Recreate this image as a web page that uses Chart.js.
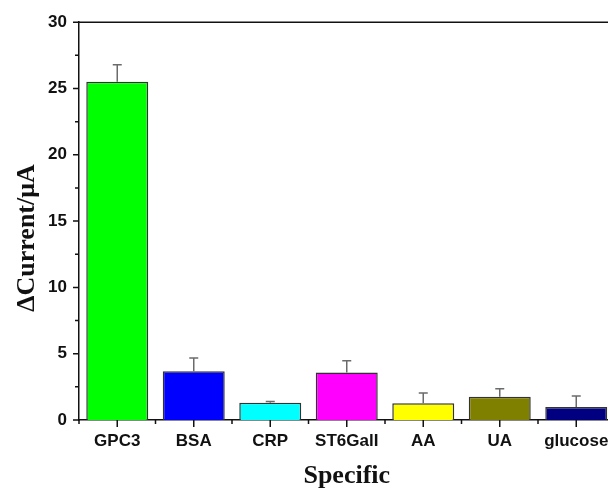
<!DOCTYPE html>
<html>
<head>
<meta charset="utf-8">
<script src="https://cdn.jsdelivr.net/npm/chart.js@4.4.1/dist/chart.umd.min.js"></script>
<style>
  html, body { margin: 0; padding: 0; background: #fff; overflow: hidden; }
  #wrap { position: relative; width: 640px; height: 491px; }
</style>
</head>
<body>
<div id="wrap"><canvas id="chart"></canvas></div>
<script>
// Response of the sensor to the target and to interferents
const categories = ['GPC3', 'BSA', 'CRP', 'ST6GalI', 'AA', 'UA', 'glucose'];
const deltaCurrent = [25.5, 3.67, 1.3, 3.59, 1.26, 1.76, 0.98];
const errorUp = [1.3, 1.0, 0.1, 0.88, 0.77, 0.6, 0.83];
const barColors = ['#00ff00', '#0000ff', '#00ffff', '#ff00ff', '#ffff00', '#808000', '#000080'];
const yTicks = [0, 5, 10, 15, 20, 25, 30];

const yTitle = '\u0394Current/\u03bcA';
const xTitle = 'Specific';

// Upper error whiskers, axis tick marks, top frame line and axis titles
const decorations = {
  id: 'decorations',
  afterDatasetsDraw(chart) {
    const { ctx, scales: { x, y } } = chart;
    const meta = chart.getDatasetMeta(0);
    ctx.save();
    ctx.strokeStyle = '#6b6b6b';
    ctx.lineWidth = 1.5;
    meta.data.forEach((bar, i) => {
      const yv = y.getPixelForValue(deltaCurrent[i]);
      const ye = y.getPixelForValue(deltaCurrent[i] + errorUp[i]);
      ctx.beginPath();
      ctx.moveTo(bar.x, yv);
      ctx.lineTo(bar.x, ye);
      ctx.moveTo(bar.x - 4.5, ye);
      ctx.lineTo(bar.x + 4.5, ye);
      ctx.stroke();
    });
    ctx.restore();
  },
  afterDraw(chart) {
    const { ctx, chartArea: a, scales: { x, y } } = chart;
    ctx.save();
    ctx.strokeStyle = '#111';
    ctx.lineWidth = 1.5;
    // top frame line
    ctx.beginPath();
    ctx.moveTo(a.left, a.top);
    ctx.lineTo(chart.width, a.top);
    ctx.stroke();
    // y ticks: major at labelled values, minor halfway between
    ctx.beginPath();
    for (let i = 0; i < yTicks.length; i++) {
      const py = y.getPixelForValue(yTicks[i]);
      ctx.moveTo(a.left - 6, py);
      ctx.lineTo(a.left, py);
      if (i < yTicks.length - 1) {
        const pm = y.getPixelForValue((yTicks[i] + yTicks[i + 1]) / 2);
        ctx.moveTo(a.left - 4, pm);
        ctx.lineTo(a.left, pm);
      }
    }
    // x ticks: major at category centres, minor at boundaries
    for (let i = 0; i < categories.length; i++) {
      const px = x.getPixelForValue(i);
      ctx.moveTo(px, a.bottom);
      ctx.lineTo(px, a.bottom + 7);
      const half = (x.getPixelForValue(1) - x.getPixelForValue(0)) / 2;
      ctx.moveTo(px - half, a.bottom);
      ctx.lineTo(px - half, a.bottom + 4);
    }
    ctx.stroke();
    // axis titles
    ctx.fillStyle = '#111';
    ctx.font = 'bold 26px "Liberation Serif", "Times New Roman", serif';
    ctx.textAlign = 'center';
    ctx.textBaseline = 'middle';
    ctx.fillText(xTitle, (a.left + a.right) / 2, 476);
    ctx.translate(27, 238);
    ctx.rotate(-Math.PI / 2);
    ctx.fillText(yTitle, 0, 0);
    ctx.restore();
  }
};

new Chart(document.getElementById('chart'), {
  type: 'bar',
  data: {
    labels: categories,
    datasets: [{
      data: deltaCurrent,
      backgroundColor: barColors,
      borderColor: '#333',
      borderWidth: 1.5,
      barPercentage: 0.81,
      categoryPercentage: 1.0
    }]
  },
  options: {
    responsive: true,
    maintainAspectRatio: false,
    animation: false,
    layout: { padding: { top: 22, right: 25.5, left: 0, bottom: 0 } },
    plugins: { legend: { display: false }, tooltip: { enabled: false } },
    scales: {
      x: {
        grid: { display: false, drawTicks: false },
        border: { display: true, color: '#111', width: 1.5 },
        ticks: {
          color: '#111',
          padding: 11,
          maxRotation: 0,
          autoSkip: false,
          font: { family: '"Liberation Sans", Arial, sans-serif', size: 17, weight: 'bold' }
        },
        afterFit(scale) { scale.height = 71; }
      },
      y: {
        min: 0,
        max: 30,
        grid: { display: false, drawTicks: false },
        border: { display: true, color: '#111', width: 1.5 },
        ticks: {
          stepSize: 5,
          color: '#111',
          padding: 12,
          font: { family: '"Liberation Sans", Arial, sans-serif', size: 17, weight: 'bold' }
        },
        afterFit(scale) { scale.width = 79; }
      }
    }
  },
  plugins: [decorations]
});
</script>
</body>
</html>
